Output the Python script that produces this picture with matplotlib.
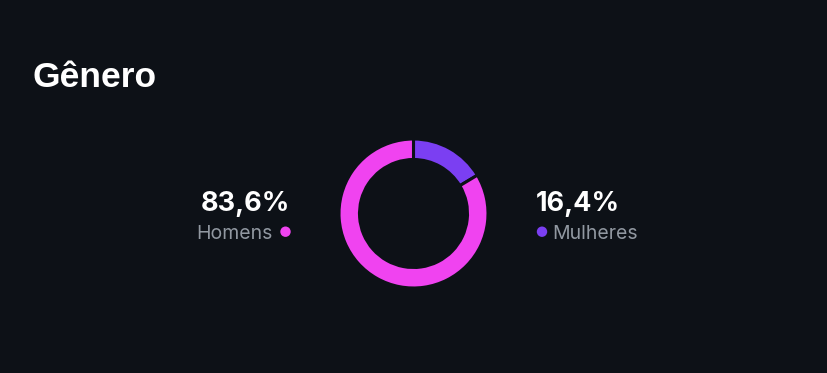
import matplotlib
matplotlib.use("Agg")
import matplotlib.pyplot as plt
from matplotlib.patches import Circle

title = "Gênero"
categories = ["Mulheres", "Homens"]
values = [16.4, 83.6]
pct_labels = ["16,4%", "83,6%"]

BG = "#0d1117"
PURPLE = "#7b3ff2"
PINK = "#f043f0"
WHITE = "#ffffff"
GREY = "#9198a1"

W, H = 828, 373
fig = plt.figure(figsize=(W / 100, H / 100), dpi=100)
fig.patch.set_facecolor(BG)
ax = fig.add_axes([0, 0, 1, 1])
ax.set_facecolor(BG)

cx, cy = 413.5, H - 213.5
ax.pie(values, colors=[PURPLE, PINK], startangle=90, counterclock=False,
       center=(cx, cy), radius=74.5,
       wedgeprops=dict(width=20.5, edgecolor=BG, linewidth=2.2))
ax.set_xlim(0, W)
ax.set_ylim(0, H)
ax.set_aspect("auto")
ax.axis("off")

def Y(y):
    return H - y

# title
ax.text(33, Y(87), title, fontsize=25.5, fontweight="bold", color=WHITE,
        family=["Liberation Sans", "DejaVu Sans"], ha="left", va="baseline")

# left label (Homens)
ax.text(290, Y(211), pct_labels[1], fontsize=19.5, fontweight="bold", color=WHITE,
        family=["Inter", "DejaVu Sans"], ha="right", va="baseline")
ax.text(273, Y(239), categories[1], fontsize=14, color=GREY,
        family=["Inter", "DejaVu Sans"], ha="right", va="baseline")
ax.add_patch(Circle((285.5, Y(231.7)), 5.2, color=PINK, lw=0))

# right label (Mulheres)
ax.text(536, Y(211), pct_labels[0], fontsize=19.5, fontweight="bold", color=WHITE,
        family=["Inter", "DejaVu Sans"], ha="left", va="baseline")
ax.add_patch(Circle((542, Y(231.7)), 5.2, color=PURPLE, lw=0))
ax.text(552.5, Y(239), categories[0], fontsize=14, color=GREY,
        family=["Inter", "DejaVu Sans"], ha="left", va="baseline")

fig.savefig("out.png", dpi=100, facecolor=BG)
